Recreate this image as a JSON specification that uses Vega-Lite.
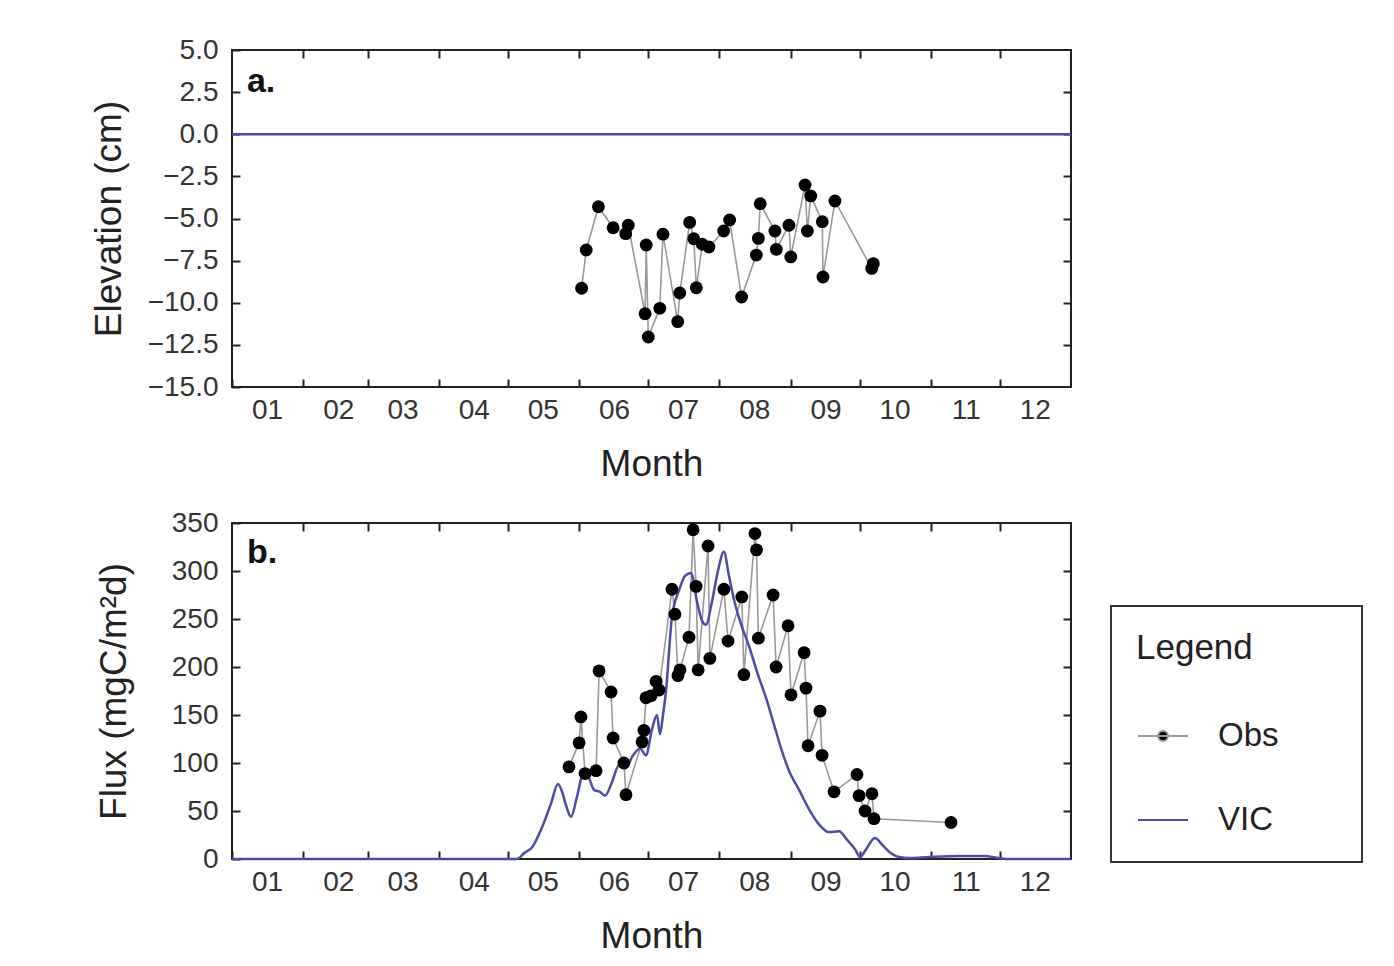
{
  "$schema": "https://vega.github.io/schema/vega-lite/v6.json",
  "background": "white",
  "padding": {"left": 89, "top": 35, "right": 10, "bottom": 0},
  "config": {
    "view": {"stroke": "#222", "strokeWidth": 2},
    "font": "Liberation Sans",
    "axis": {
      "labelFont": "Liberation Sans", "titleFont": "Liberation Sans",
      "labelFontSize": 28, "titleFontSize": 37, "labelColor": "#333", "titleColor": "#222",
      "titleFontWeight": "normal", "tickColor": "#222", "tickWidth": 2, "grid": false, "domain": false,
      "labelOverlap": false, "labelFlush": false
    }
  },
  "datasets": {
    "vic_a": [{"day": 0, "value": 0, "series": "VIC"}, {"day": 365, "value": 0, "series": "VIC"}],
    "obs_a": [
      {"day": 152.1, "value": -9.14}, {"day": 154.1, "value": -6.87}, {"day": 159.4, "value": -4.30},
      {"day": 165.8, "value": -5.55}, {"day": 171.3, "value": -5.90}, {"day": 172.4, "value": -5.40},
      {"day": 179.7, "value": -10.65}, {"day": 180.2, "value": -6.57}, {"day": 181.1, "value": -12.03},
      {"day": 186.1, "value": -10.33}, {"day": 187.5, "value": -5.93}, {"day": 193.9, "value": -11.12},
      {"day": 194.8, "value": -9.42}, {"day": 199.1, "value": -5.23}, {"day": 200.9, "value": -6.20},
      {"day": 202.0, "value": -9.11}, {"day": 204.6, "value": -6.53}, {"day": 207.5, "value": -6.69},
      {"day": 213.9, "value": -5.74}, {"day": 216.5, "value": -5.09}, {"day": 221.7, "value": -9.66},
      {"day": 228.1, "value": -7.17}, {"day": 229.0, "value": -6.18}, {"day": 229.8, "value": -4.12},
      {"day": 236.2, "value": -5.74}, {"day": 236.8, "value": -6.83}, {"day": 242.3, "value": -5.40},
      {"day": 243.1, "value": -7.28}, {"day": 249.3, "value": -3.01}, {"day": 250.3, "value": -5.74},
      {"day": 251.8, "value": -3.66}, {"day": 256.8, "value": -5.19}, {"day": 257.1, "value": -8.47},
      {"day": 262.3, "value": -3.96}, {"day": 278.3, "value": -7.96}, {"day": 279.0, "value": -7.68}
    ],
    "obs_b": [
      {"day": 146.6, "value": 96, "series": "Obs"}, {"day": 151.0, "value": 121, "series": "Obs"},
      {"day": 151.8, "value": 148, "series": "Obs"}, {"day": 153.6, "value": 89, "series": "Obs"},
      {"day": 158.4, "value": 92, "series": "Obs"}, {"day": 159.7, "value": 196, "series": "Obs"},
      {"day": 164.9, "value": 174, "series": "Obs"}, {"day": 165.8, "value": 126, "series": "Obs"},
      {"day": 170.5, "value": 100, "series": "Obs"}, {"day": 171.4, "value": 67, "series": "Obs"},
      {"day": 178.4, "value": 122, "series": "Obs"}, {"day": 179.2, "value": 134, "series": "Obs"},
      {"day": 180.1, "value": 168, "series": "Obs"}, {"day": 182.3, "value": 170, "series": "Obs"},
      {"day": 184.5, "value": 185, "series": "Obs"}, {"day": 185.8, "value": 176, "series": "Obs"},
      {"day": 191.4, "value": 281, "series": "Obs"}, {"day": 192.7, "value": 255, "series": "Obs"},
      {"day": 194.0, "value": 191, "series": "Obs"}, {"day": 194.9, "value": 197, "series": "Obs"},
      {"day": 198.8, "value": 231, "series": "Obs"}, {"day": 200.6, "value": 343, "series": "Obs"},
      {"day": 201.9, "value": 284, "series": "Obs"}, {"day": 202.8, "value": 197, "series": "Obs"},
      {"day": 207.1, "value": 326, "series": "Obs"}, {"day": 207.9, "value": 209, "series": "Obs"},
      {"day": 214.0, "value": 281, "series": "Obs"}, {"day": 215.8, "value": 227, "series": "Obs"},
      {"day": 221.8, "value": 273, "series": "Obs"}, {"day": 222.7, "value": 192, "series": "Obs"},
      {"day": 227.5, "value": 339, "series": "Obs"}, {"day": 228.2, "value": 322, "series": "Obs"},
      {"day": 229.0, "value": 230, "series": "Obs"}, {"day": 235.4, "value": 275, "series": "Obs"},
      {"day": 236.7, "value": 200, "series": "Obs"}, {"day": 241.9, "value": 243, "series": "Obs"},
      {"day": 243.2, "value": 171, "series": "Obs"}, {"day": 248.9, "value": 215, "series": "Obs"},
      {"day": 249.7, "value": 178, "series": "Obs"}, {"day": 250.6, "value": 118, "series": "Obs"},
      {"day": 255.8, "value": 154, "series": "Obs"}, {"day": 256.7, "value": 108, "series": "Obs"},
      {"day": 261.9, "value": 70, "series": "Obs"}, {"day": 271.9, "value": 88, "series": "Obs"},
      {"day": 272.8, "value": 66, "series": "Obs"}, {"day": 275.4, "value": 50, "series": "Obs"},
      {"day": 278.4, "value": 68, "series": "Obs"}, {"day": 279.3, "value": 42, "series": "Obs"},
      {"day": 312.8, "value": 38, "series": "Obs"}
    ],
    "vic_b": [
      {"day": 0, "value": 0, "series": "VIC"}, {"day": 123.6, "value": 0, "series": "VIC"},
      {"day": 124.9, "value": 1, "series": "VIC"}, {"day": 127.0, "value": 6, "series": "VIC"},
      {"day": 130.5, "value": 12, "series": "VIC"}, {"day": 134.9, "value": 33, "series": "VIC"},
      {"day": 138.8, "value": 58, "series": "VIC"}, {"day": 141.8, "value": 78, "series": "VIC"},
      {"day": 143.6, "value": 70, "series": "VIC"}, {"day": 145.3, "value": 56, "series": "VIC"},
      {"day": 147.5, "value": 44, "series": "VIC"}, {"day": 150.1, "value": 65, "series": "VIC"},
      {"day": 152.7, "value": 88, "series": "VIC"}, {"day": 154.9, "value": 86, "series": "VIC"},
      {"day": 157.5, "value": 72, "series": "VIC"}, {"day": 160.1, "value": 70, "series": "VIC"},
      {"day": 162.3, "value": 66, "series": "VIC"}, {"day": 165.3, "value": 80, "series": "VIC"},
      {"day": 168.4, "value": 98, "series": "VIC"}, {"day": 171.4, "value": 96, "series": "VIC"},
      {"day": 174.5, "value": 108, "series": "VIC"}, {"day": 177.5, "value": 115, "series": "VIC"},
      {"day": 180.1, "value": 108, "series": "VIC"}, {"day": 182.7, "value": 135, "series": "VIC"},
      {"day": 184.9, "value": 150, "series": "VIC"}, {"day": 186.2, "value": 130, "series": "VIC"},
      {"day": 187.5, "value": 150, "series": "VIC"}, {"day": 188.8, "value": 175, "series": "VIC"},
      {"day": 191.4, "value": 252, "series": "VIC"}, {"day": 194.5, "value": 280, "series": "VIC"},
      {"day": 197.1, "value": 295, "series": "VIC"}, {"day": 199.7, "value": 298, "series": "VIC"},
      {"day": 202.3, "value": 268, "series": "VIC"}, {"day": 204.5, "value": 248, "series": "VIC"},
      {"day": 206.2, "value": 244, "series": "VIC"}, {"day": 208.8, "value": 268, "series": "VIC"},
      {"day": 211.4, "value": 300, "series": "VIC"}, {"day": 214.0, "value": 320, "series": "VIC"},
      {"day": 216.2, "value": 295, "series": "VIC"}, {"day": 218.4, "value": 270, "series": "VIC"},
      {"day": 221.4, "value": 245, "series": "VIC"}, {"day": 224.9, "value": 222, "series": "VIC"},
      {"day": 228.4, "value": 195, "series": "VIC"}, {"day": 232.3, "value": 168, "series": "VIC"},
      {"day": 235.8, "value": 140, "series": "VIC"}, {"day": 239.3, "value": 112, "series": "VIC"},
      {"day": 242.3, "value": 92, "series": "VIC"}, {"day": 246.7, "value": 72, "series": "VIC"},
      {"day": 251.0, "value": 52, "series": "VIC"}, {"day": 255.4, "value": 36, "series": "VIC"},
      {"day": 259.7, "value": 28, "series": "VIC"}, {"day": 264.1, "value": 29, "series": "VIC"},
      {"day": 267.6, "value": 20, "series": "VIC"}, {"day": 271.1, "value": 10, "series": "VIC"},
      {"day": 273.2, "value": 2, "series": "VIC"}, {"day": 275.8, "value": 10, "series": "VIC"},
      {"day": 279.7, "value": 22, "series": "VIC"}, {"day": 283.2, "value": 14, "series": "VIC"},
      {"day": 286.7, "value": 6, "series": "VIC"}, {"day": 290.2, "value": 2, "series": "VIC"},
      {"day": 294.5, "value": 1, "series": "VIC"}, {"day": 303.2, "value": 2, "series": "VIC"},
      {"day": 316.3, "value": 3, "series": "VIC"}, {"day": 327.2, "value": 3, "series": "VIC"},
      {"day": 333.7, "value": 1, "series": "VIC"}, {"day": 338.0, "value": 0, "series": "VIC"},
      {"day": 365, "value": 0, "series": "VIC"}
    ]
  },
  "spacing": 25,
  "resolve": {"scale": {"color": "independent"}, "legend": {"color": "independent"}},
  "vconcat": [
    {
      "width": 839, "height": 337,
      "resolve": {"axis": {"x": "independent", "y": "independent"}},
      "layer": [
        {
          "data": {"name": "vic_a"},
          "mark": {"type": "line", "color": "#4b4ba8", "strokeWidth": 2.5},
          "encoding": {
            "x": {"field": "day", "type": "quantitative", "scale": {"domain": [0, 365], "nice": false, "zero": false},
              "axis": {"orient": "bottom", "title": "Month", "values": [0, 31, 59, 90, 120, 151, 181, 212, 243, 273, 304, 334], "labelExpr": "['01','02','03','04','05','06','07','08','09','10','11','12'][indexof([0,31,59,90,120,151,181,212,243,273,304,334], datum.value)]", "labelOffset": 35, "tickSize": -8, "labelPadding": 17, "titlePadding": 22}},
            "y": {"field": "value", "type": "quantitative", "scale": {"domain": [-15, 5], "nice": false, "zero": false},
              "axis": {"orient": "left", "title": "Elevation (cm)", "values": [-15, -12.5, -10, -7.5, -5, -2.5, 0, 2.5, 5], "format": ".1f", "tickSize": -8, "labelPadding": 22, "titlePadding": 19}}
          }
        },
        {
          "data": {"name": "obs_a"},
          "mark": {"type": "line", "color": "#999999", "strokeWidth": 1.6},
          "encoding": {
            "x": {"field": "day", "type": "quantitative", "axis": {"orient": "top", "title": null, "labels": false, "values": [31, 59, 90, 120, 151, 181, 212, 243, 273, 304, 334], "tickSize": -8}},
            "y": {"field": "value", "type": "quantitative", "axis": {"orient": "right", "title": null, "labels": false, "values": [-12.5, -10, -7.5, -5, -2.5, 0, 2.5], "tickSize": -8}}
          }
        },
        {
          "data": {"name": "obs_a"},
          "mark": {"type": "circle", "size": 165, "color": "black", "opacity": 1},
          "encoding": {
            "x": {"field": "day", "type": "quantitative", "axis": null},
            "y": {"field": "value", "type": "quantitative", "axis": null}
          }
        },
        {
          "data": {"values": [{}]},
          "mark": {"type": "text", "text": "a.", "font": "Liberation Sans", "fontSize": 34, "fontWeight": "bold", "align": "left", "baseline": "alphabetic", "color": "#111"},
          "encoding": {
            "x": {"datum": 6.5, "type": "quantitative", "axis": null},
            "y": {"datum": 2.5, "type": "quantitative", "axis": null}
          }
        }
      ]
    },
    {
      "width": 839, "height": 336,
      "resolve": {"axis": {"x": "independent", "y": "independent"}},
      "layer": [
        {
          "data": {"name": "obs_b"},
          "mark": {"type": "line", "strokeWidth": 1.6},
          "encoding": {
            "x": {"field": "day", "type": "quantitative", "scale": {"domain": [0, 365], "nice": false, "zero": false},
              "axis": {"orient": "bottom", "title": "Month", "values": [0, 31, 59, 90, 120, 151, 181, 212, 243, 273, 304, 334], "labelExpr": "['01','02','03','04','05','06','07','08','09','10','11','12'][indexof([0,31,59,90,120,151,181,212,243,273,304,334], datum.value)]", "labelOffset": 35, "tickSize": -8, "labelPadding": 17, "titlePadding": 22}},
            "y": {"field": "value", "type": "quantitative", "scale": {"domain": [0, 350], "nice": false},
              "axis": {"orient": "left", "title": "Flux (mgC/m²d)", "values": [0, 50, 100, 150, 200, 250, 300, 350], "tickSize": -8, "labelPadding": 22, "titlePadding": 38}},
            "color": {"field": "series", "type": "nominal",
              "scale": {"domain": ["Obs", "VIC"], "range": ["#999999", "#4b4ba8"]},
              "legend": {
                "title": "Legend", "orient": "none", "legendX": 879, "legendY": 83,
                "strokeColor": "#333", "padding": 25, "titleFont": "Liberation Sans", "titleFontSize": 35, "titleFontWeight": "normal", "titleColor": "#222", "titlePadding": 44,
                "labelFont": "Liberation Sans", "labelFontSize": 33, "labelColor": "#222", "labelOffset": 29,
                "symbolSize": 2500, "symbolStrokeWidth": 2, "rowPadding": 41, "symbolOffset": 1,
                "encode": {
                  "legend": {"update": {"strokeWidth": {"value": 2}}},
                  "symbols": {"update": {
                    "shape": {"signal": "datum.label === 'Obs' ? 'M-1,0H1M0.2,0A0.2,0.2 0 1 1 -0.2,0A0.2,0.2 0 1 1 0.2,0ZM6.8,0' : 'M-1,0H1M6.8,0'"},
                    "fill": {"signal": "datum.label === 'Obs' ? 'black' : 'transparent'"},
                    "fillOpacity": {"value": 1}
                  }}
                }
              }}
          }
        },
        {
          "data": {"name": "vic_b"},
          "mark": {"type": "line", "strokeWidth": 2.5, "interpolate": "monotone"},
          "encoding": {
            "x": {"field": "day", "type": "quantitative", "axis": {"orient": "top", "title": null, "labels": false, "values": [31, 59, 90, 120, 151, 181, 212, 243, 273, 304, 334], "tickSize": -8}},
            "y": {"field": "value", "type": "quantitative", "axis": {"orient": "right", "title": null, "labels": false, "values": [50, 100, 150, 200, 250, 300], "tickSize": -8}},
            "color": {"field": "series", "type": "nominal"}
          }
        },
        {
          "data": {"name": "obs_b"},
          "mark": {"type": "circle", "size": 165, "color": "black", "opacity": 1},
          "encoding": {
            "x": {"field": "day", "type": "quantitative", "axis": null},
            "y": {"field": "value", "type": "quantitative", "axis": null}
          }
        },
        {
          "data": {"values": [{}]},
          "mark": {"type": "text", "text": "b.", "font": "Liberation Sans", "fontSize": 34, "fontWeight": "bold", "align": "left", "baseline": "alphabetic", "color": "#111"},
          "encoding": {
            "x": {"datum": 6.5, "type": "quantitative", "axis": null},
            "y": {"datum": 308, "type": "quantitative", "axis": null}
          }
        }
      ]
    }
  ]
}
